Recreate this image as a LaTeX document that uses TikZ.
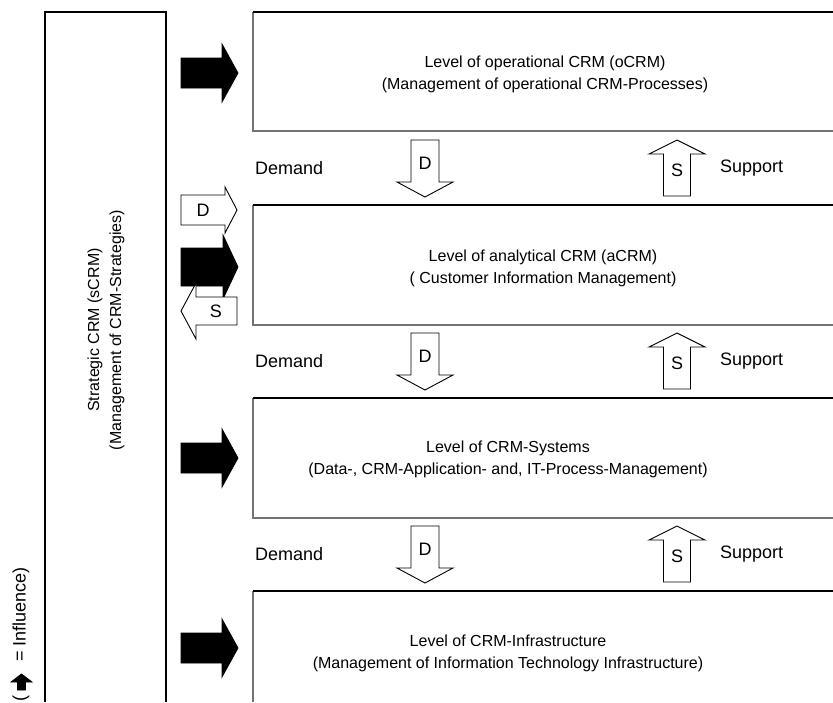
\documentclass[tikz,border=0pt]{standalone}
\usepackage{fontspec}
\setmainfont{Liberation Sans}
\newcommand\arrR[7]{\draw[#1] (#2,{#5-#6}) -- (#3,{#5-#6}) -- (#3,{#5-#7}) -- (#4,#5) -- (#3,{#5+#7}) -- (#3,{#5+#6}) -- (#2,{#5+#6}) -- cycle;}
\newcommand\arrV[7]{\draw[#1] ({#2-#6},#3) -- ({#2-#6},#4) -- ({#2-#7},#4) -- (#2,#5) -- ({#2+#7},#4) -- ({#2+#6},#4) -- ({#2+#6},#3) -- cycle;}
\begin{document}
\begin{tikzpicture}[x=1pt,y=-1pt,
  blk/.style={fill=black,draw=black,line width=0.8pt},
  wht/.style={fill=white,draw=black,line width=0.9pt,line join=miter},
  txt/.style={font=\fontsize{16}{22}\selectfont,inner sep=0pt,align=center},
  lbl/.style={font=\fontsize{18}{22}\selectfont,inner sep=0pt},
  frame/.style={draw=black!55,line width=1.3pt},
  topline/.style={draw=black,line width=1.3pt}]
\useasboundingbox (0,0) rectangle (833,702);
% strategic box
\draw[line width=1.3pt] (45,702) -- (45,12) -- (166,12) -- (166,702);
\node[txt,rotate=90] (scrm) at (106,330) {Strategic CRM (sCRM)\\(Management of CRM-Strategies)};
% level boxes
\foreach \t/\b in {12/131,205/325,398/518}{
  \draw[frame] (833,\b) -- (253,\b) -- (253,\t);
  \draw[topline] (253,\t) -- (833,\t);
}
\draw[frame] (253,702) -- (253,591);
\draw[topline] (253,591) -- (833,591);
\node[txt] (ocrm) at (545,74) {Level of operational CRM (oCRM)\\(Management of operational CRM-Processes)};
\node[txt] (acrm) at (543,268) {Level of analytical CRM (aCRM)\\( Customer Information Management)};
\node[txt] (sys) at (508,459) {Level of CRM-Systems\\(Data-, CRM-Application- and, IT-Process-Management)};
\node[txt] (infra) at (508,653) {Level of CRM-Infrastructure\\(Management of Information Technology Infrastructure)};
% black influence arrows
\arrR{blk}{181}{222}{238}{73}{15}{29}
\arrR{blk}{181}{223}{238}{267}{19}{32}
\arrR{blk}{181}{222}{238}{458}{15}{29}
\arrR{blk}{181}{222}{238}{648}{15}{29}
% left D / S arrows
\arrR{wht}{181}{225}{237}{210}{15}{23}
\node[lbl] (dl) at (203,210) {D};
\arrR{wht}{237}{196}{181}{311}{14}{28}
\node[lbl] (sl) at (216,311) {S};
% D/S between levels
\foreach \o [count=\i] in {0,193,386}{
  \arrV{wht}{425}{140+\o}{182+\o}{197+\o}{14}{28}
  \node[lbl] (d\i) at (425,163+\o) {D};
  \arrV{wht}{677}{196+\o}{154+\o}{140+\o}{13.5}{28}
  \node[lbl] (s\i) at (677,170+\o) {S};
  \node[lbl,anchor=west] (dem\i) at (255,168+\o) {Demand};
  \node[lbl,anchor=west] (sup\i) at (720,168+\o) {Support};
}
% legend
\arrV{blk}{21.5}{690}{682}{674}{4}{10.5}
\node[lbl,rotate=90,anchor=west] (legend) at (21,702) {(\hspace{34pt}= Influence)};
\end{tikzpicture}
\end{document}
